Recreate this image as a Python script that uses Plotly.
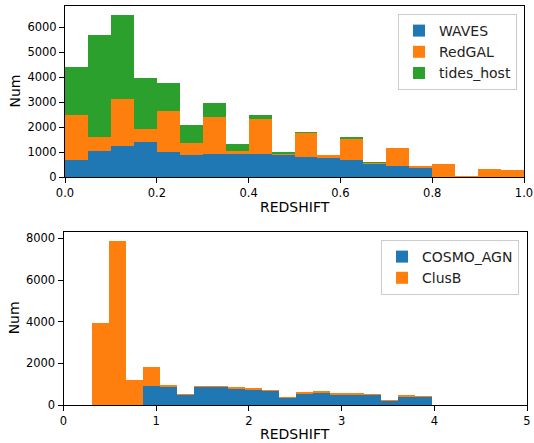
import numpy as np
import plotly.graph_objects as go

# ---------------- data ----------------
# Top panel: 20 bins over REDSHIFT 0..1 (stacked)
top_range = (0.0, 1.0)
top_nbins = 20
waves = [680, 1040, 1253, 1413, 1013, 893, 933, 933, 933, 893,
         813, 760, 680, 547, 453, 373, 0, 0, 0, 0]
redgal = [1800, 573, 1867, 520, 1627, 480, 1467, 107, 1387, 27,
          960, 120, 853, 40, 720, 67, 520, 12, 320, 280]
tides_host = [1920, 4080, 3360, 2027, 1120, 707, 560, 280, 160, 80,
              27, 0, 40, 13, 0, 0, 0, 0, 0, 0]

# Bottom panel: 20 bins over REDSHIFT ~0.30..3.97 (stacked)
bot_range = (0.30, 3.965)
bot_nbins = 20
cosmo_agn = [0, 0, 0, 912, 912, 528, 912, 880, 816, 768,
             720, 368, 576, 624, 528, 528, 496, 240, 432, 432]
clusb = [3940, 7870, 1200, 910, 15, 5, 10, 10, 15, 15,
         5, 5, 15, 25, 15, 15, 8, 3, 25, 3]

top_xticks = [0.0, 0.2, 0.4, 0.6, 0.8, 1.0]
top_yticks = [0, 1000, 2000, 3000, 4000, 5000, 6000]
bot_xticks = [0, 1, 2, 3, 4, 5]
bot_yticks = [0, 2000, 4000, 6000, 8000]

BLUE, ORANGE, GREEN = "#1f77b4", "#ff7f0e", "#2ca02c"

# ---------------- layout helpers ----------------
W, H = 534, 443
FONT = "DejaVu Sans"


def px_x(p):
    return p / W


def px_y(p):
    return 1 - p / H


top_edges = np.linspace(top_range[0], top_range[1], top_nbins + 1)
top_centers = (top_edges[:-1] + top_edges[1:]) / 2
top_w = top_edges[1] - top_edges[0]
bot_edges = np.linspace(bot_range[0], bot_range[1], bot_nbins + 1)
bot_centers = (bot_edges[:-1] + bot_edges[1:]) / 2
bot_w = bot_edges[1] - bot_edges[0]

fig = go.Figure()


def add_bar(x, y, w, name, color, xa, ya, legend):
    fig.add_trace(go.Bar(
        x=x, y=y, width=[w] * len(x), name=name,
        marker=dict(color=color, line=dict(width=0)),
        xaxis=xa, yaxis=ya, legend=legend,
        hoverinfo="x+y+name",
    ))


add_bar(top_centers, waves, top_w, "WAVES", BLUE, "x", "y", "legend")
add_bar(top_centers, redgal, top_w, "RedGAL", ORANGE, "x", "y", "legend")
add_bar(top_centers, tides_host, top_w, "tides_host", GREEN, "x", "y", "legend")
add_bar(bot_centers, cosmo_agn, bot_w, "COSMO_AGN", BLUE, "x2", "y2", "legend2")
add_bar(bot_centers, clusb, bot_w, "ClusB", ORANGE, "x2", "y2", "legend2")

axis_common = dict(
    showline=True, linecolor="black", linewidth=1, mirror=True,
    ticks="outside", ticklen=5, tickwidth=1, tickcolor="black",
    showgrid=False, zeroline=False, automargin=False,
    tickfont=dict(family=FONT, size=11.5, color="black"),
)

# pixel geometry of plot areas
top_box = (65, 524, 6, 177)      # x0, x1, ytop, ybottom
bot_box = (63.5, 527, 231.7, 405)

legend_common = dict(
    xanchor="right", yanchor="top", traceorder="normal",
    bgcolor="rgba(255,255,255,0.8)", bordercolor="#cccccc", borderwidth=1,
    font=dict(family=FONT, size=14, color="#222222"),
    itemwidth=30, tracegroupgap=0,
)

fig.update_layout(
    width=W, height=H,
    margin=dict(l=0, r=0, t=0, b=0),
    paper_bgcolor="white", plot_bgcolor="white",
    barmode="stack", bargap=0,
    font=dict(family=FONT, color="black"),
    xaxis=dict(axis_common, domain=[px_x(top_box[0]), px_x(top_box[1])],
               range=[0, 1], tickvals=top_xticks,
               ticktext=[f"{v:.1f}" for v in top_xticks], anchor="y"),
    yaxis=dict(axis_common, domain=[px_y(top_box[3]), px_y(top_box[2])],
               range=[0, 6840], tickvals=top_yticks, anchor="x"),
    xaxis2=dict(axis_common, domain=[px_x(bot_box[0]), px_x(bot_box[1])],
                range=[0, 5], tickvals=bot_xticks, anchor="y2"),
    yaxis2=dict(axis_common, domain=[px_y(bot_box[3]), px_y(bot_box[2])],
                range=[0, 8320], tickvals=bot_yticks, anchor="x2"),
    legend=dict(legend_common, x=px_x(517), y=px_y(14)),
    legend2=dict(legend_common, x=px_x(519), y=px_y(240)),
    showlegend=True,
)

label_font = dict(family=FONT, size=14, color="black")
annots = [
    dict(text="REDSHIFT", x=px_x((top_box[0] + top_box[1]) / 2), y=px_y(207)),
    dict(text="REDSHIFT", x=px_x((bot_box[0] + bot_box[1]) / 2), y=px_y(434)),
    dict(text="Num", x=px_x(14), y=px_y((top_box[2] + top_box[3]) / 2), textangle=-90),
    dict(text="Num", x=px_x(14), y=px_y((bot_box[2] + bot_box[3]) / 2), textangle=-90),
]
for a in annots:
    fig.add_annotation(xref="paper", yref="paper", showarrow=False,
                       xanchor="center", yanchor="middle", font=label_font, **a)

fig.write_html("out.html")
